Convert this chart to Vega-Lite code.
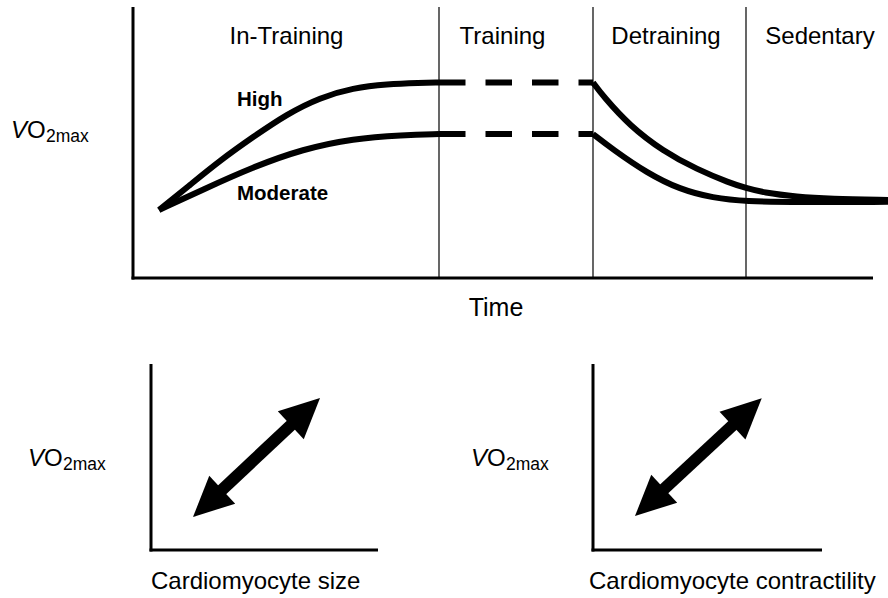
{
  "$schema": "https://vega.github.io/schema/vega-lite/v6.json",
  "width": 888,
  "height": 598,
  "autosize": "none",
  "padding": 0,
  "background": "white",
  "config": {"view": {"stroke": null}},
  "datasets": {
    "axes": [
      {"x": 133, "y": 7, "x2": 133, "y2": 279.5},
      {"x": 131.5, "y": 278, "x2": 873, "y2": 278},
      {"x": 151, "y": 364, "x2": 151, "y2": 551.5},
      {"x": 149.5, "y": 550, "x2": 378, "y2": 550},
      {"x": 593, "y": 364, "x2": 593, "y2": 551.5},
      {"x": 591.5, "y": 550, "x2": 822, "y2": 550}
    ],
    "dividers": [
      {"x": 439, "y": 7, "x2": 439, "y2": 278},
      {"x": 593, "y": 7, "x2": 593, "y2": 278},
      {"x": 746, "y": 7, "x2": 746, "y2": 278}
    ],
    "curves": [
      {"series": "High in-training", "x": 159, "y": 210},
      {"series": "High in-training", "x": 190, "y": 185},
      {"series": "High in-training", "x": 220, "y": 160.5},
      {"series": "High in-training", "x": 253, "y": 137},
      {"series": "High in-training", "x": 287, "y": 114},
      {"series": "High in-training", "x": 320, "y": 97.5},
      {"series": "High in-training", "x": 353, "y": 88},
      {"series": "High in-training", "x": 387, "y": 84},
      {"series": "High in-training", "x": 420, "y": 82.8},
      {"series": "High in-training", "x": 439, "y": 82.5},
      {"series": "Moderate in-training", "x": 159, "y": 210},
      {"series": "Moderate in-training", "x": 203, "y": 189.5},
      {"series": "Moderate in-training", "x": 253, "y": 167},
      {"series": "Moderate in-training", "x": 303, "y": 149},
      {"series": "Moderate in-training", "x": 353, "y": 138.5},
      {"series": "Moderate in-training", "x": 403, "y": 135},
      {"series": "Moderate in-training", "x": 439, "y": 134},
      {"series": "High detraining", "x": 593, "y": 82.5},
      {"series": "High detraining", "x": 603, "y": 96},
      {"series": "High detraining", "x": 630, "y": 126},
      {"series": "High detraining", "x": 663, "y": 151},
      {"series": "High detraining", "x": 697, "y": 169.5},
      {"series": "High detraining", "x": 730, "y": 183},
      {"series": "High detraining", "x": 746, "y": 188},
      {"series": "High detraining", "x": 763, "y": 192.5},
      {"series": "High detraining", "x": 797, "y": 196.8},
      {"series": "High detraining", "x": 830, "y": 198.8},
      {"series": "High detraining", "x": 888, "y": 200},
      {"series": "Moderate detraining", "x": 593, "y": 134},
      {"series": "Moderate detraining", "x": 613, "y": 149.5},
      {"series": "Moderate detraining", "x": 647, "y": 173},
      {"series": "Moderate detraining", "x": 680, "y": 189.5},
      {"series": "Moderate detraining", "x": 713, "y": 198},
      {"series": "Moderate detraining", "x": 746, "y": 201.5},
      {"series": "Moderate detraining", "x": 797, "y": 202.3},
      {"series": "Moderate detraining", "x": 888, "y": 201.8}
    ],
    "plateau": [
      {"series": "High training", "x": 439, "y": 82.5},
      {"series": "High training", "x": 593, "y": 82.5},
      {"series": "Moderate training", "x": 439, "y": 134},
      {"series": "Moderate training", "x": 593, "y": 134}
    ],
    "shafts": [
      {"x": 305.4, "y": 411.6, "x2": 207.6, "y2": 503.4},
      {"x": 747.1, "y": 411.9, "x2": 649.6, "y2": 502.4}
    ],
    "headsUp": [
      {"x": 305.4, "y": 411.6},
      {"x": 747.1, "y": 411.9}
    ],
    "headsDown": [
      {"x": 207.6, "y": 503.4},
      {"x": 649.6, "y": 502.4}
    ],
    "phases": [
      {"label": "In-Training", "x": 286.5, "y": 44},
      {"label": "Training", "x": 502.5, "y": 44},
      {"label": "Detraining", "x": 666, "y": 44},
      {"label": "Sedentary", "x": 820, "y": 44}
    ],
    "timeLabel": [{"label": "Time", "x": 496, "y": 316}],
    "intensity": [
      {"label": "High", "x": 237, "y": 106},
      {"label": "Moderate", "x": 237, "y": 200}
    ],
    "xTitles": [
      {"label": "Cardiomyocyte size", "x": 151, "y": 589},
      {"label": "Cardiomyocyte contractility", "x": 589, "y": 589}
    ],
    "vV": [
      {"label": "V", "x": 11, "y": 138},
      {"label": "V", "x": 28, "y": 466},
      {"label": "V", "x": 471, "y": 466}
    ],
    "vO": [
      {"label": "O", "x": 27, "y": 138},
      {"label": "O", "x": 44, "y": 466},
      {"label": "O", "x": 487, "y": 466}
    ],
    "vSub": [
      {"label": "2max", "x": 46, "y": 141.5},
      {"label": "2max", "x": 63, "y": 469.5},
      {"label": "2max", "x": 506, "y": 469.5}
    ]
  },
  "encoding": {
    "x": {"field": "x", "type": "quantitative", "axis": null, "scale": {"domain": [0, 888], "nice": false, "zero": false}},
    "y": {"field": "y", "type": "quantitative", "axis": null, "scale": {"domain": [0, 598], "nice": false, "zero": false, "reverse": true}}
  },
  "layer": [
    {
      "data": {"name": "dividers"},
      "mark": {"type": "rule", "color": "black", "strokeWidth": 1.2},
      "encoding": {"x2": {"field": "x2"}, "y2": {"field": "y2"}}
    },
    {
      "data": {"name": "axes"},
      "mark": {"type": "rule", "color": "black", "strokeWidth": 3},
      "encoding": {"x2": {"field": "x2"}, "y2": {"field": "y2"}}
    },
    {
      "data": {"name": "curves"},
      "mark": {"type": "line", "color": "black", "strokeWidth": 6, "interpolate": "basis"},
      "encoding": {"detail": {"field": "series", "type": "nominal"}}
    },
    {
      "data": {"name": "plateau"},
      "mark": {"type": "line", "color": "black", "strokeWidth": 6, "strokeDash": [26.5, 20]},
      "encoding": {"detail": {"field": "series", "type": "nominal"}}
    },
    {
      "data": {"name": "shafts"},
      "mark": {"type": "rule", "color": "black", "strokeWidth": 12},
      "encoding": {"x2": {"field": "x2"}, "y2": {"field": "y2"}}
    },
    {
      "data": {"name": "headsUp"},
      "mark": {"type": "point", "shape": "M0,-1L-0.95,1L0.95,1Z", "filled": true, "color": "black", "opacity": 1, "size": 1600, "angle": 47, "strokeWidth": 0}
    },
    {
      "data": {"name": "headsDown"},
      "mark": {"type": "point", "shape": "M0,-1L-0.95,1L0.95,1Z", "filled": true, "color": "black", "opacity": 1, "size": 1600, "angle": 227, "strokeWidth": 0}
    },
    {
      "data": {"name": "phases"},
      "mark": {"type": "text", "font": "Liberation Sans", "fontSize": 24, "align": "center", "baseline": "alphabetic", "color": "black"},
      "encoding": {"text": {"field": "label"}}
    },
    {
      "data": {"name": "timeLabel"},
      "mark": {"type": "text", "font": "Liberation Sans", "fontSize": 25, "align": "center", "baseline": "alphabetic", "color": "black"},
      "encoding": {"text": {"field": "label"}}
    },
    {
      "data": {"name": "intensity"},
      "mark": {"type": "text", "font": "Liberation Sans", "fontSize": 20.5, "fontWeight": "bold", "align": "left", "baseline": "alphabetic", "color": "black"},
      "encoding": {"text": {"field": "label"}}
    },
    {
      "data": {"name": "xTitles"},
      "mark": {"type": "text", "font": "Liberation Sans", "fontSize": 24, "align": "left", "baseline": "alphabetic", "color": "black"},
      "encoding": {"text": {"field": "label"}}
    },
    {
      "data": {"name": "vV"},
      "mark": {"type": "text", "font": "Liberation Sans", "fontSize": 24, "fontStyle": "italic", "align": "left", "baseline": "alphabetic", "color": "black"},
      "encoding": {"text": {"field": "label"}}
    },
    {
      "data": {"name": "vO"},
      "mark": {"type": "text", "font": "Liberation Sans", "fontSize": 24, "align": "left", "baseline": "alphabetic", "color": "black"},
      "encoding": {"text": {"field": "label"}}
    },
    {
      "data": {"name": "vSub"},
      "mark": {"type": "text", "font": "Liberation Sans", "fontSize": 17.5, "align": "left", "baseline": "alphabetic", "color": "black"},
      "encoding": {"text": {"field": "label"}}
    }
  ]
}
